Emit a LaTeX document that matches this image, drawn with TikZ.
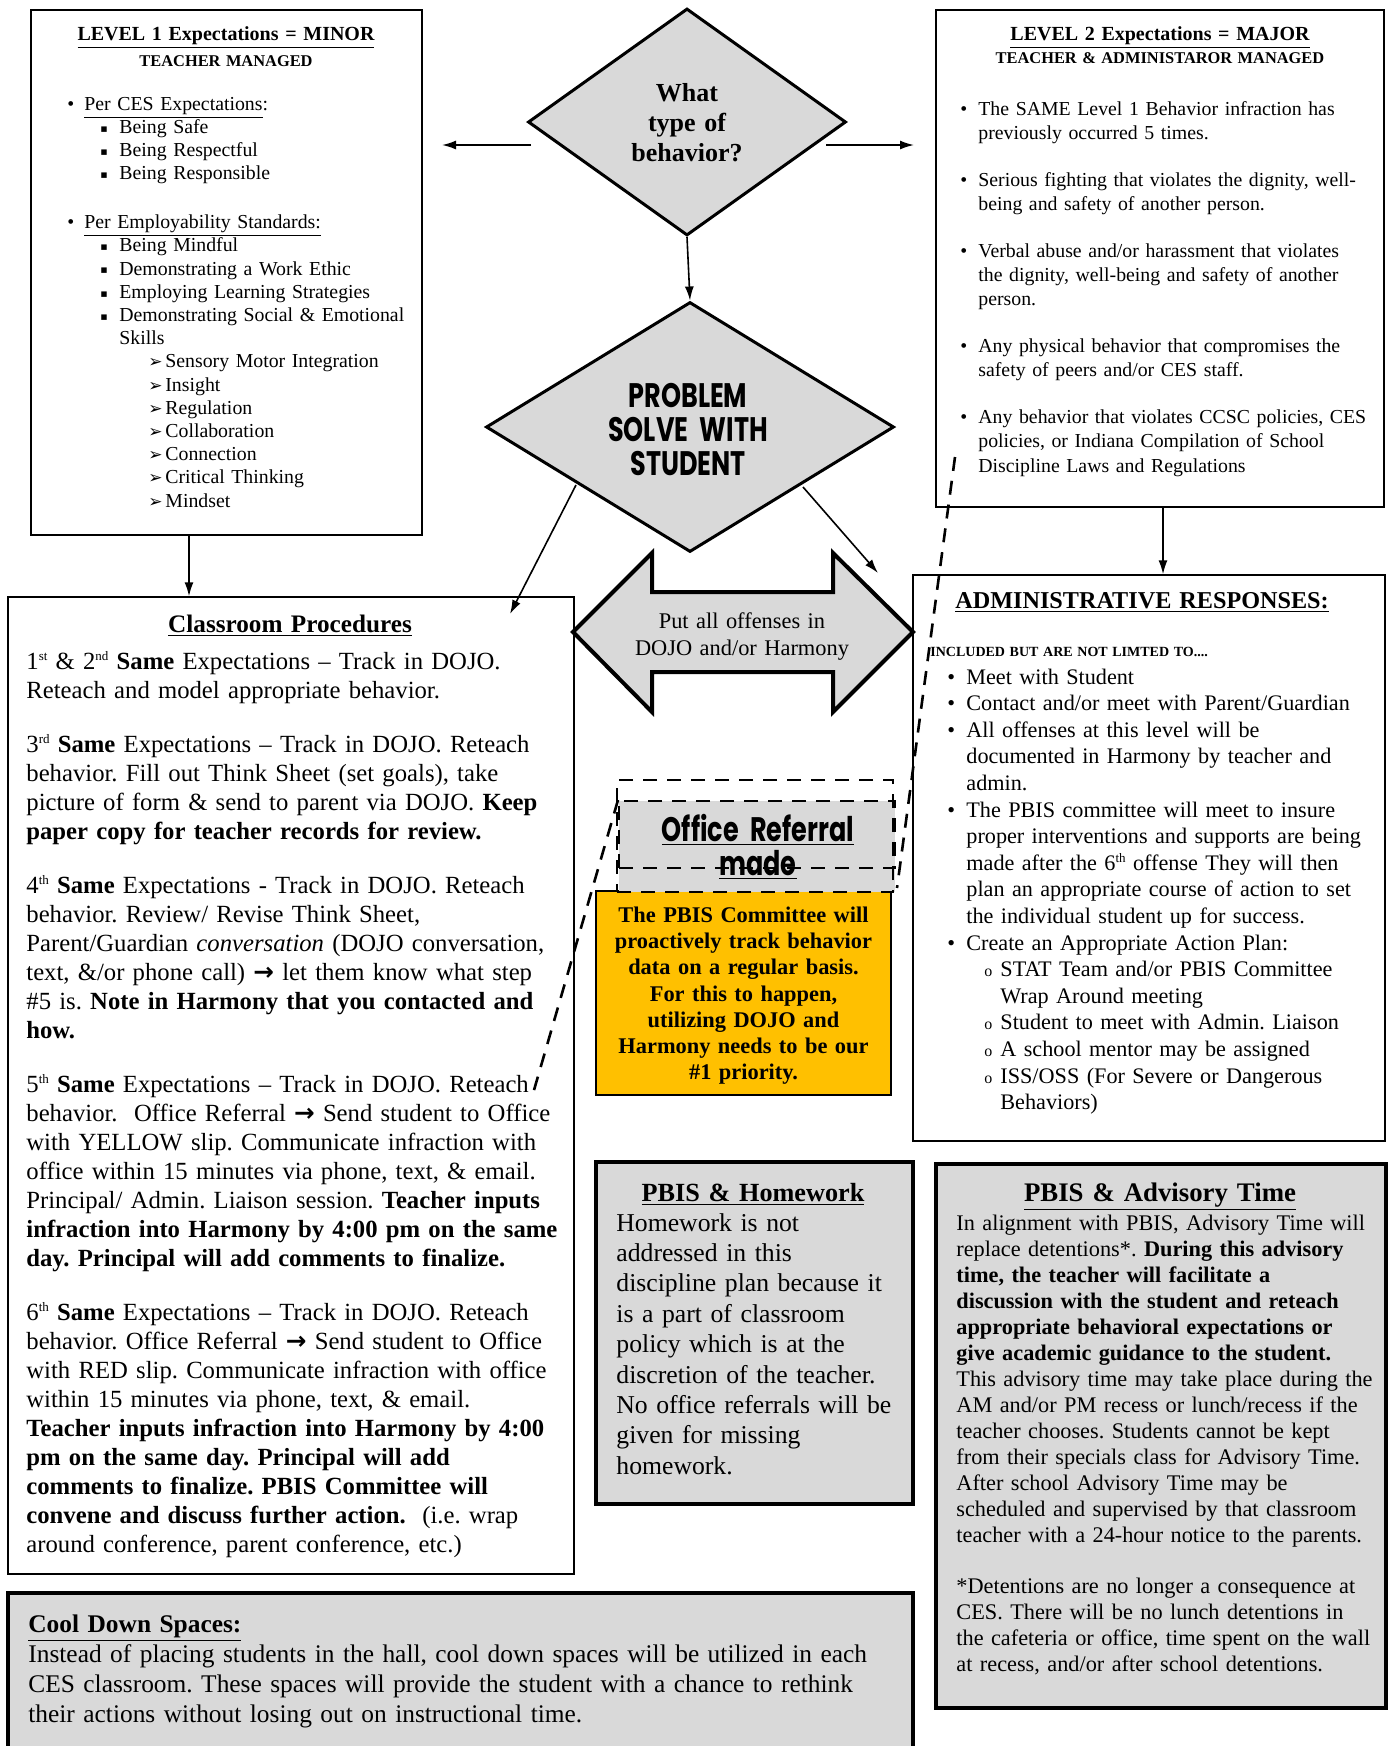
\documentclass[tikz,border=0pt]{standalone}
\usepackage{fontspec}
\setmainfont{Liberation Serif}
\newfontfamily\dejavu{DejaVu Sans}
\newfontfamily\gothic{Poppins}[FakeStretch=0.75]
\usetikzlibrary{arrows.meta,shapes.geometric,fit}
\definecolor{boxgray}{RGB}{217,217,217}
\definecolor{goldbox}{RGB}{255,192,0}
\frenchspacing
\newcommand\myfs[2]{\fontsize{#1}{#2}\selectfont}
\newcommand\mybul[2]{\makebox[#1][l]{•}#2}
\newcommand\mysq[1]{\hspace*{16.5pt}\makebox[9.5pt][l]{\dejavu\fontsize{5.5}{5.5}\selectfont\raisebox{0.6pt}{▪}}#1}
\newcommand\myarr[1]{\hspace*{40.5pt}\makebox[8.5pt][l]{\dejavu\fontsize{8.5}{8.5}\selectfont ➢}#1}
\newcommand\myob[1]{\hspace*{18.5pt}\makebox[8pt][l]{\fontsize{8}{8}\selectfont o}#1}
\newcommand\myto{{\dejavu\bfseries →}}
\newcommand\mysup[1]{\raisebox{0.75ex}{\fontsize{6.5}{6.5}\selectfont #1}}
\begin{document}
\begin{tikzpicture}[x=0.5pt,y=-0.5pt,
  box/.style={draw, line width=0.7pt, inner sep=0pt},
  grbox/.style={draw, line width=2pt, fill=boxgray, inner sep=0pt},
  conn/.style={-{Latex[length=7pt,width=4.5pt]}, line width=0.8pt},
  dashline/.style={dash pattern=on 7pt off 5pt, line width=1.3pt},
  txt/.style={inner sep=0pt, align=left, anchor=base west, text width=#1},
  txt/.default=300pt,
  ctxt/.style={inner sep=0pt, align=center, anchor=base, text width=#1},
  ctxt/.default=200pt,
  dia/.style={diamond, draw, fill=boxgray, line width=1.5pt, inner sep=0pt}]
\useasboundingbox (0,0) rectangle (1389,1746);
\clip (0,0) rectangle (1389,1746);

% ---------- boxes ----------
\node[box, fit={(31,10)(422,535)}] (lvl1) {};
\node[box, fit={(936,10)(1384,507)}] (lvl2) {};
\node[box, fit={(913,575)(1385,1141)}] (adm) {};
\node[box, fit={(8,597)(574,1574)}] (cls) {};
\node[draw, line width=0.9pt, fill=goldbox, inner sep=0pt, fit={(596,891)(891,1095)}] (pbisc) {};
\node[grbox, fit={(596,1162)(913,1504)}] (hw) {};
\node[grbox, fit={(936,1164)(1386,1708)}] (adv) {};
\node[grbox, fit={(8,1593)(913,1770)}] (cool) {};

% ---------- diamonds ----------
\node[dia, minimum width=159pt, minimum height=113.5pt] (d1) at (687,122) {};
\node[dia, minimum width=204pt, minimum height=125pt] (d2) at (690,427) {};

% ---------- double arrow ----------
\filldraw[fill=boxgray, line width=2pt, line join=miter] (573,632) -- (652,553) -- (652,592) -- (833,592) -- (833,553) -- (913,632) -- (833,712) -- (833,672) -- (652,672) -- (652,712) -- cycle;

% ---------- office referral ----------
\node[fill=boxgray, inner sep=0pt, fit={(619,801)(895,892)}] (orfill) {};
\node[draw, dashline, inner sep=0pt, fit={(619,801)(895,868)}] (orin) {};
\node[draw, dashline, inner sep=0pt, fit={(617,780)(893,892)}] (orout) {};

% ---------- connectors ----------
\draw[conn] (d1.south) -- (d2.north);
\coordinate (l1a) at (531,145); \coordinate (l1b) at (442,145);
\draw[conn] (l1a) -- (l1b);
\coordinate (r1a) at (826,145); \coordinate (r1b) at (914,145);
\draw[conn] (r1a) -- (r1b);
\coordinate (cxa) at (189,0);
\draw[conn] (cxa |- lvl1.south) -- (cxa |- cls.north);
\coordinate (p1) at (576,485); \coordinate (p2) at (510,614);
\draw[conn] (p1) -- (p2);
\coordinate (p3) at (803,487); \coordinate (p4) at (878,573);
\draw[conn] (p3) -- (p4);
\coordinate (cxb) at (1163,0);
\draw[conn] (cxb |- lvl2.south) -- (cxb |- adm.north);
\coordinate (q1) at (955,457); \coordinate (q2) at (897,888);
\draw[dashline] (q1) -- (q2);
\coordinate (q3) at (618,800); \coordinate (q4) at (532,1097);
\draw[dashline] (q3) -- (q4);

% ---------- texts ----------
\node[ctxt=150pt, font=\gothic\bfseries\myfs{17}{17}] (t2) at (688,407) {PROBLEM\\SOLVE WITH\\STUDENT};
\begin{scope}[yshift=-1.5pt]
\node[ctxt=100pt, font=\bfseries\myfs{13}{15}] (t1) at (687,98) {What\\type of\\behavior?};
\node[ctxt=150pt, font=\myfs{11.2}{13.5}] (t3) at (742,625) {Put all offenses in\\DOJO and/or Harmony};
\node[ctxt=140pt, font=\gothic\bfseries\myfs{17}{17}] (t4) at (758,838) {\underline{Office Referral}\\\underline{made}};
\node[ctxt=145pt, font=\bfseries\myfs{11.2}{13.1}] (t5) at (743.5,919.5) {The PBIS Committee will\\proactively track behavior\\data on a regular basis.\\For this to happen,\\utilizing DOJO and\\Harmony needs to be our\\\#1 priority.};

% level 1
\node[ctxt, font=\bfseries\myfs{10}{12}] (l1t) at (226,37) {\underline{LEVEL 1 Expectations = MINOR}};
\node[ctxt, font=\bfseries\myfs{8.2}{10}] (l1s) at (226,63) {TEACHER MANAGED};
\node[txt=185pt, font=\myfs{9.9}{11.6}] (l1l) at (67,107) {%
\mybul{8.5pt}{\underline{Per CES Expectations}:}\\
\mysq{Being Safe}\\
\mysq{Being Respectful}\\
\mysq{Being Responsible}\\[12.9pt]
\mybul{8.5pt}{\underline{Per Employability Standards:}}\\
\mysq{Being Mindful}\\
\mysq{Demonstrating a Work Ethic}\\
\mysq{Employing Learning Strategies}\\
\mysq{Demonstrating Social \& Emotional}\\
\hspace*{26pt}Skills\\
\myarr{Sensory Motor Integration}\\
\myarr{Insight}\\
\myarr{Regulation}\\
\myarr{Collaboration}\\
\myarr{Connection}\\
\myarr{Critical Thinking}\\
\myarr{Mindset}};

% level 2
\node[ctxt, font=\bfseries\myfs{10}{12}] (l2t) at (1160,37) {\underline{LEVEL 2 Expectations = MAJOR}};
\node[ctxt, font=\bfseries\myfs{8.2}{10}] (l2s) at (1160,60) {TEACHER \& ADMINISTAROR MANAGED};
\node[txt=215pt, font=\myfs{9.9}{12.1}] (l2l) at (960,112.5) {%
\mybul{9pt}{The SAME Level 1 Behavior infraction has}\\
\hspace*{9pt}previously occurred 5 times.\\[11.3pt]
\mybul{9pt}{Serious fighting that violates the dignity, well-}\\
\hspace*{9pt}being and safety of another person.\\[11.3pt]
\mybul{9pt}{Verbal abuse and/or harassment that violates}\\
\hspace*{9pt}the dignity, well-being and safety of another\\
\hspace*{9pt}person.\\[11.3pt]
\mybul{9pt}{Any physical behavior that compromises the}\\
\hspace*{9pt}safety of peers and/or CES staff.\\[11.3pt]
\mybul{9pt}{Any behavior that violates CCSC policies, CES}\\
\hspace*{9pt}policies, or Indiana Compilation of School\\
\hspace*{9pt}Discipline Laws and Regulations};

% admin
\node[txt=230pt, font=\bfseries\myfs{12.1}{14}] (adt) at (955,605.5) {\underline{ADMINISTRATIVE RESPONSES:}};
\node[txt=220pt, font=\bfseries\myfs{7}{8}] (adi) at (930,653.5) {INCLUDED BUT ARE NOT LIMTED TO....};
\node[txt=215pt, font=\myfs{11.1}{13.3}] (adl) at (947,681) {%
\mybul{9.5pt}{Meet with Student}\\
\mybul{9.5pt}{Contact and/or meet with Parent/Guardian}\\
\mybul{9.5pt}{All offenses at this level will be}\\
\hspace*{9.5pt}documented in Harmony by teacher and\\
\hspace*{9.5pt}admin.\\
\mybul{9.5pt}{The PBIS committee will meet to insure}\\
\hspace*{9.5pt}proper interventions and supports are being\\
\hspace*{9.5pt}made after the 6\mysup{th} offense They will then\\
\hspace*{9.5pt}plan an appropriate course of action to set\\
\hspace*{9.5pt}the individual student up for success.\\
\mybul{9.5pt}{Create an Appropriate Action Plan:}\\
\myob{STAT Team and/or PBIS Committee}\\
\hspace*{26.5pt}Wrap Around meeting\\
\myob{Student to meet with Admin. Liaison}\\
\myob{A school mentor may be assigned}\\
\myob{ISS/OSS (For Severe or Dangerous}\\
\hspace*{26.5pt}Behaviors)};

% classroom
\node[ctxt, font=\bfseries\myfs{12.6}{14}] (clt) at (290,629) {\underline{Classroom Procedures}};
\node[txt=280pt, font=\myfs{12.35}{14.5}] (cll) at (26,666) {%
1\mysup{st} \& 2\mysup{nd} \textbf{Same} Expectations -- Track in DOJO.\\
Reteach and model appropriate behavior.\\[12.5pt]
3\mysup{rd} \textbf{Same} Expectations -- Track in DOJO. Reteach\\
behavior. Fill out Think Sheet (set goals), take\\
picture of form \& send to parent via DOJO. \textbf{Keep}\\
\textbf{paper copy for teacher records for review.}\\[12.5pt]
4\mysup{th} \textbf{Same} Expectations - Track in DOJO. Reteach\\
behavior. Review/ Revise Think Sheet,\\
Parent/Guardian \textit{conversation} (DOJO conversation,\\
text, \&/or phone call) \myto{} let them know what step\\
\#5 is. \textbf{Note in Harmony that you contacted and}\\
\textbf{how.}\\[12.5pt]
5\mysup{th} \textbf{Same} Expectations -- Track in DOJO. Reteach\\
behavior.\ \ Office Referral \myto{} Send student to Office\\
with YELLOW slip. Communicate infraction with\\
office within 15 minutes via phone, text, \& email.\\
Principal/ Admin. Liaison session. \textbf{Teacher inputs}\\
\textbf{infraction into Harmony by 4:00 pm on the same}\\
\textbf{day. Principal will add comments to finalize.}\\[12.5pt]
6\mysup{th} \textbf{Same} Expectations -- Track in DOJO. Reteach\\
behavior. Office Referral \myto{} Send student to Office\\
with RED slip. Communicate infraction with office\\
within 15 minutes via phone, text, \& email.\\
\textbf{Teacher inputs infraction into Harmony by 4:00}\\
\textbf{pm on the same day. Principal will add}\\
\textbf{comments to finalize. PBIS Committee will}\\
\textbf{convene and discuss further action.}\ \ (i.e. wrap\\
around conference, parent conference, etc.)};

% homework
\node[ctxt, font=\bfseries\myfs{13.1}{15}] (hwt) at (753,1198) {\underline{PBIS \& Homework}};
\node[txt=150pt, font=\myfs{12.85}{15.2}] (hwl) at (616,1228) {%
Homework is not\\
addressed in this\\
discipline plan because it\\
is a part of classroom\\
policy which is at the\\
discretion of the teacher.\\
No office referrals will be\\
given for missing\\
homework.};

% advisory
\node[ctxt, font=\bfseries\myfs{13.4}{15}] (advt) at (1160,1198) {\underline{PBIS \& Advisory Time}};
\node[txt=220pt, font=\myfs{11.15}{13}] (advl) at (956,1227) {%
In alignment with PBIS, Advisory Time will\\
replace detentions*. \textbf{During this advisory}\\
\textbf{time, the teacher will facilitate a}\\
\textbf{discussion with the student and reteach}\\
\textbf{appropriate behavioral expectations or}\\
\textbf{give academic guidance to the student.}\\
This advisory time may take place during the\\
AM and/or PM recess or lunch/recess if the\\
teacher chooses. Students cannot be kept\\
from their specials class for Advisory Time.\\
After school Advisory Time may be\\
scheduled and supervised by that classroom\\
teacher with a 24-hour notice to the parents.\\[12.6pt]
*Detentions are no longer a consequence at\\
CES. There will be no lunch detentions in\\
the cafeteria or office, time spent on the wall\\
at recess, and/or after school detentions.};

% cool down
\node[txt=440pt, font=\myfs{12.7}{15}] (cdl) at (28,1629) {%
\textbf{\underline{Cool Down Spaces:}}\\
Instead of placing students in the hall, cool down spaces will be utilized in each\\
CES classroom. These spaces will provide the student with a chance to rethink\\
their actions without losing out on instructional time.};
\end{scope}
\end{tikzpicture}
\end{document}
